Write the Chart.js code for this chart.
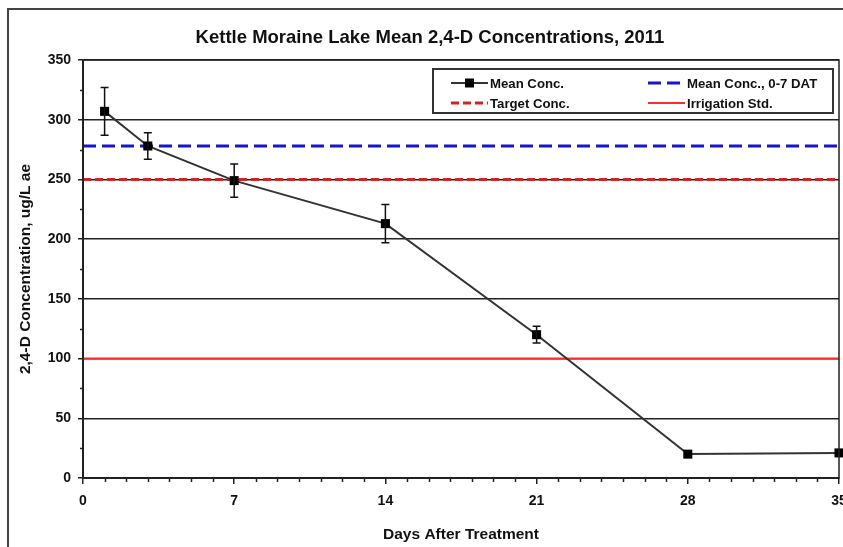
<!DOCTYPE html>
<html>
<head>
<meta charset="utf-8">
<script src="https://cdn.jsdelivr.net/npm/chart.js@4/dist/chart.umd.min.js"></script>
<style>
  html, body { margin: 0; padding: 0; background: #fff; }
  #wrap { width: 843px; height: 547px; position: relative; }
</style>
</head>
<body>
<div id="wrap"><canvas id="chart"></canvas></div>
<script>
// данные
const days = [1, 3, 7, 14, 21, 28, 35];
const meanConc = [307, 278, 249, 213, 120, 20, 21];
const meanErr = [20, 11, 14, 16, 7, 0, 0];
const dayRange = [0, 35];
const meanConc07 = 278;
const targetConc = 250;
const irrigationStd = 100;
const seriesNames = ['Mean Conc.', 'Mean Conc., 0-7 DAT', 'Target Conc.', 'Irrigation Std.'];

const FONT = "'Liberation Sans', Arial, sans-serif";

function flatLine(value) {
  return dayRange.map((d) => ({ x: d, y: value }));
}

// рамка вокруг рисунка, рамка области графика, малые деления
const framePlugin = {
  id: 'frame',
  beforeDraw(chart) {
    const ctx = chart.ctx;
    ctx.save();
    ctx.fillStyle = '#fff';
    ctx.fillRect(0, 0, chart.width, chart.height);
    ctx.strokeStyle = '#444';
    ctx.lineWidth = 2;
    ctx.beginPath();
    ctx.moveTo(8, chart.height + 2);
    ctx.lineTo(8, 9);
    ctx.lineTo(chart.width + 2, 9);
    ctx.stroke();
    ctx.restore();
  },
  afterDraw(chart) {
    const { ctx, chartArea: a, scales: { x, y } } = chart;
    ctx.save();
    ctx.strokeStyle = '#222';
    ctx.lineWidth = 1.5;
    ctx.strokeRect(a.left, a.top, a.right - a.left, a.bottom - a.top);
    ctx.beginPath();
    for (let d = dayRange[0]; d <= dayRange[1]; d++) {
      if (d % 7 === 0) continue;
      const px = Math.round(x.getPixelForValue(d)) + 0.5;
      ctx.moveTo(px, a.bottom);
      ctx.lineTo(px, a.bottom + 4);
    }
    for (let v = 25; v < 350; v += 50) {
      const py = Math.round(y.getPixelForValue(v)) + 0.5;
      ctx.moveTo(a.left - 3, py);
      ctx.lineTo(a.left, py);
    }
    ctx.stroke();
    ctx.restore();
  },
};

// планки погрешностей
const errorBarPlugin = {
  id: 'errorBars',
  afterDatasetsDraw(chart) {
    const { ctx, scales: { x, y } } = chart;
    ctx.save();
    ctx.strokeStyle = '#111';
    ctx.lineWidth = 1.5;
    days.forEach((d, i) => {
      if (!meanErr[i]) return;
      const px = x.getPixelForValue(d);
      const top = y.getPixelForValue(meanConc[i] + meanErr[i]);
      const bot = y.getPixelForValue(meanConc[i] - meanErr[i]);
      ctx.beginPath();
      ctx.moveTo(px, top);
      ctx.lineTo(px, bot);
      ctx.moveTo(px - 4, top);
      ctx.lineTo(px + 4, top);
      ctx.moveTo(px - 4, bot);
      ctx.lineTo(px + 4, bot);
      ctx.stroke();
    });
    ctx.restore();
  },
};

// легенда в рамке, два столбца
const boxLegendPlugin = {
  id: 'boxLegend',
  afterDraw(chart) {
    const { ctx, chartArea: a } = chart;
    const bx = a.right - 406;
    const by = a.top + 9;
    const bw = 400;
    const bh = 44;
    ctx.save();
    ctx.fillStyle = '#fff';
    ctx.fillRect(bx, by, bw, bh);
    ctx.strokeStyle = '#333';
    ctx.lineWidth = 2;
    ctx.strokeRect(bx, by, bw, bh);
    ctx.font = 'bold 13.2px ' + FONT;
    ctx.textBaseline = 'middle';
    ctx.fillStyle = '#111';
    const cols = [18, 215];
    const rows = [14, 34];
    chart.data.datasets.forEach((ds, i) => {
      const sx = bx + cols[i % 2];
      const sy = by + rows[Math.floor(i / 2)];
      ctx.save();
      ctx.strokeStyle = ds.borderColor;
      ctx.lineWidth = ds.borderWidth;
      ctx.setLineDash(ds.borderDash || []);
      ctx.beginPath();
      ctx.moveTo(sx, sy);
      ctx.lineTo(sx + 37, sy);
      ctx.stroke();
      ctx.restore();
      if (ds.pointRadius) {
        ctx.fillStyle = '#000';
        ctx.fillRect(sx + 14, sy - 4.5, 9, 9);
        ctx.fillStyle = '#111';
      }
      ctx.fillText(ds.label, sx + 39, sy + 1);
    });
    ctx.restore();
  },
};

Chart.defaults.font.family = FONT;
Chart.defaults.color = '#111';

const ctx = document.getElementById('chart');
new Chart(ctx, {
  type: 'scatter',
  data: {
    datasets: [
      {
        label: seriesNames[0],
        data: days.map((d, i) => ({ x: d, y: meanConc[i] })),
        showLine: true,
        borderColor: '#333',
        borderWidth: 2,
        pointStyle: 'rect',
        pointRadius: 6.4,
        pointBackgroundColor: '#000',
        pointBorderColor: '#000',
        pointBorderWidth: 0,
        clip: false,
      },
      {
        label: seriesNames[1],
        data: flatLine(meanConc07),
        showLine: true,
        borderColor: '#1515d8',
        borderWidth: 3,
        borderDash: [13, 6],
        pointRadius: 0,
      },
      {
        label: seriesNames[2],
        data: flatLine(targetConc),
        showLine: true,
        borderColor: '#d82020',
        borderWidth: 3,
        borderDash: [8, 4],
        pointRadius: 0,
      },
      {
        label: seriesNames[3],
        data: flatLine(irrigationStd),
        showLine: true,
        borderColor: '#ff2a2a',
        borderWidth: 2,
        pointRadius: 0,
      },
    ],
  },
  options: {
    responsive: true,
    maintainAspectRatio: false,
    animation: false,
    layout: { autoPadding: false, padding: { left: 21, right: 4, top: 0, bottom: 0 } },
    plugins: {
      legend: { display: false },
      tooltip: { enabled: false },
      title: {
        display: true,
        text: 'Kettle Moraine Lake Mean 2,4-D Concentrations, 2011',
        color: '#111',
        font: { size: 18.5, weight: 'bold', family: FONT },
        padding: { top: 26.5, bottom: 11.3 },
      },
    },
    scales: {
      x: {
        type: 'linear',
        min: dayRange[0],
        max: dayRange[1],
        ticks: {
          stepSize: 7,
          padding: 9,
          maxRotation: 0,
          color: '#111',
          font: { size: 14, weight: 'bold' },
        },
        grid: { drawOnChartArea: false, tickLength: 6, color: '#222', lineWidth: 1.5 },
        border: { color: '#222', width: 2 },
        title: {
          display: true,
          text: 'Days After Treatment',
          color: '#111',
          font: { size: 15.5, weight: 'bold' },
          padding: { top: 0, bottom: 3 },
        },
        afterFit(scale) {
          scale.height = 69;
          scale.paddingLeft = 0;
          scale.paddingRight = 0;
        },
      },
      y: {
        min: 0,
        max: 350,
        ticks: {
          stepSize: 50,
          padding: 7,
          color: '#111',
          font: { size: 14, weight: 'bold' },
        },
        grid: { color: '#222', lineWidth: 1.5, tickLength: 5 },
        border: { color: '#222', width: 2 },
        title: {
          display: true,
          text: '2,4-D Concentration, ug/L ae',
          color: '#111',
          font: { size: 15.5, weight: 'bold' },
          padding: { top: -5, bottom: 0 },
        },
        afterFit(scale) {
          scale.width = 62;
          scale.paddingTop = 0;
          scale.paddingBottom = 0;
        },
      },
    },
  },
  plugins: [framePlugin, errorBarPlugin, boxLegendPlugin],
});
</script>
</body>
</html>
